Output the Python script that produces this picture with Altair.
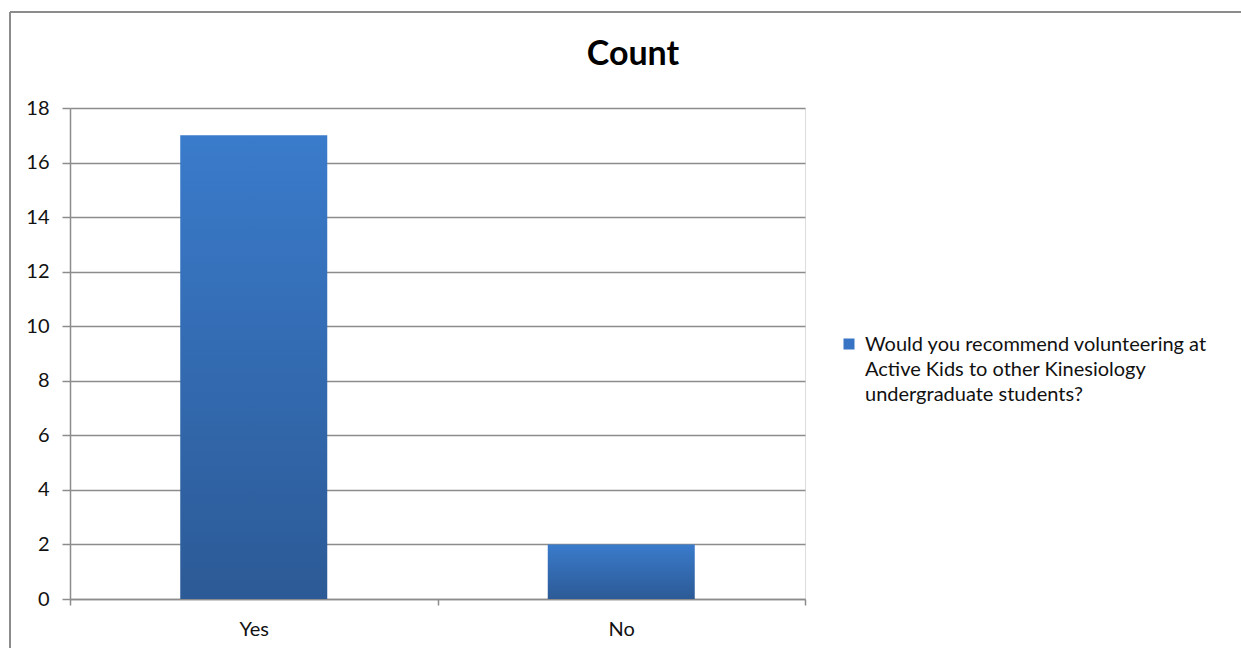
import textwrap

import altair as alt
import pandas as pd

# ---- data -------------------------------------------------------------
CATEGORIES = ["Yes", "No"]
COUNTS = [17, 2]
SERIES_NAME = ("Would you recommend volunteering at Active Kids to other "
               "Kinesiology undergraduate students?")
Y_TICKS = [0, 2, 4, 6, 8, 10, 12, 14, 16, 18]
TITLE = "Count"

# ---- layout -----------------------------------------------------------
W, H = 735, 491
PAD = {"left": 70, "top": 108, "right": 436, "bottom": 49}
FONT = "Lato"
GREY = "#8C8C8C"
INK = "#111111"

df = pd.DataFrame({"answer": CATEGORIES, "count": COUNTS, "series": SERIES_NAME})
legend_df = pd.DataFrame({
    "series": [SERIES_NAME],
    "wrapped": ["\n".join(textwrap.wrap(SERIES_NAME, 35))],
    "title": [TITLE],
})

bar_fill = alt.Gradient(
    gradient="linear",
    stops=[alt.GradientStop(color="#3A7BCB", offset=0),
           alt.GradientStop(color="#2C5A96", offset=1)],
    x1=0, x2=0, y1=0, y2=1,
)

# bands fill the whole axis so the category ticks sit at the band edges;
# the bars themselves take 40% of each band
bars = alt.Chart(df).mark_bar(
    color=bar_fill, width=alt.RelativeBandSize(0.4)
).encode(
    x=alt.X(
        "answer:N",
        sort=CATEGORIES,
        scale=alt.Scale(paddingInner=0, paddingOuter=0),
        axis=alt.Axis(
            title=None, labelAngle=0, tickBand="extent", tickSize=6,
            labelPadding=14, labelFontSize=20, labelFont=FONT,
            labelColor=INK, domainColor=GREY, tickColor=GREY,
            domainWidth=1.5, tickWidth=1.5, grid=False,
        ),
    ),
    y=alt.Y(
        "count:Q",
        scale=alt.Scale(domain=[0, 18], nice=False),
        axis=alt.Axis(
            title=None, values=Y_TICKS, tickSize=8, labelPadding=13,
            labelFontSize=20, labelFont=FONT, labelColor=INK,
            domainColor=GREY, tickColor=GREY, gridColor=GREY,
            domainWidth=1.5, tickWidth=1.5, gridWidth=1.5,
        ),
    ),
)

# outer chart frame (top and left edges; the rest runs off the page)
frame_top = alt.Chart(legend_df).mark_rule(color=GREY, strokeWidth=2).encode(
    x=alt.value(-60), x2=alt.value(1200), y=alt.value(-96)
)
frame_left = alt.Chart(legend_df).mark_rule(color=GREY, strokeWidth=2).encode(
    x=alt.value(-60), y=alt.value(-96), y2=alt.value(560)
)

# chart title
title = alt.Chart(legend_df).mark_text(
    align="center", baseline="middle", fontSize=34, fontWeight="bold",
    font=FONT, color="#000000",
).encode(x=alt.value(563), y=alt.value(-53), text="title:N")

# legend: swatch plus wrapped series name
swatch = alt.Chart(legend_df).mark_square(
    size=121, color="#3775C4", opacity=1
).encode(x=alt.value(779), y=alt.value(236))

legend_text = alt.Chart(legend_df).mark_text(
    align="left", baseline="alphabetic", lineBreak="\n", lineHeight=25,
    fontSize=20, font=FONT, color=INK,
).encode(x=alt.value(795), y=alt.value(243), text="wrapped:N")

chart = alt.layer(
    frame_top, frame_left, bars, title, swatch, legend_text
).properties(
    width=W,
    height=H,
    padding=PAD,
    autosize="none",
).configure_view(stroke=None).configure(background="white")

chart.save("out.html", embed_options={"renderer": "svg", "actions": False})
